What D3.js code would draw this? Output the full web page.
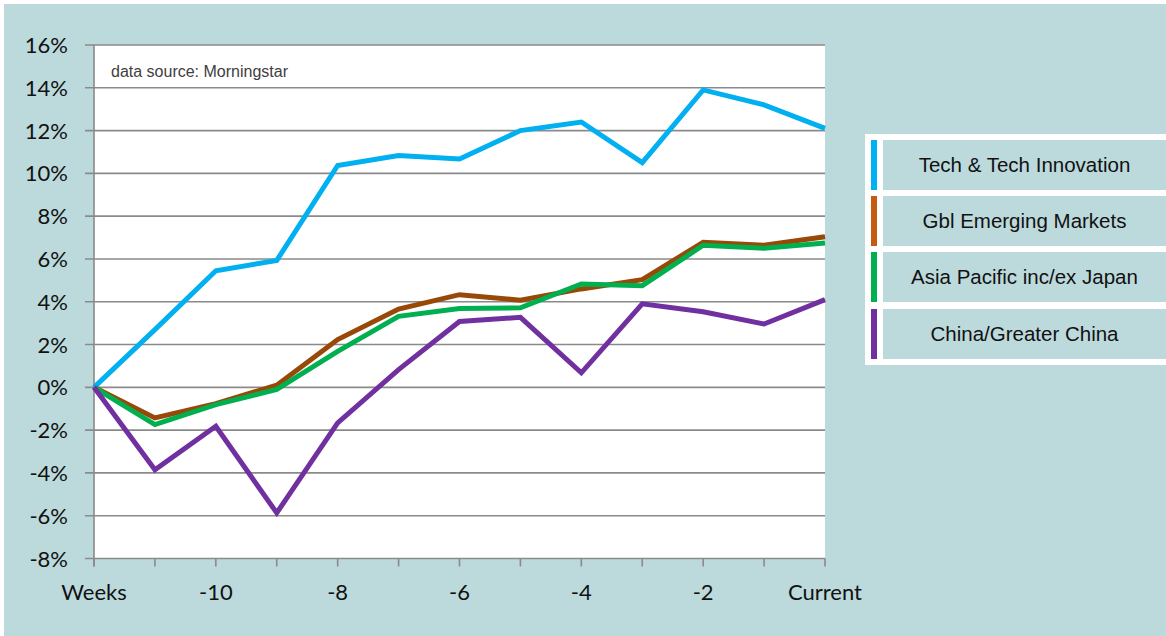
<!DOCTYPE html>
<html><head><meta charset="utf-8">
<script src="https://cdn.jsdelivr.net/npm/d3@7"></script>
<style>html,body{margin:0;padding:0;background:#fff;}svg{display:block;}</style>
</head><body>
<svg id="c" width="1166" height="636"></svg>
<script>
const weeks = [-12,-11,-10,-9,-8,-7,-6,-5,-4,-3,-2,-1,0];
const tickLabels = {"-12":"Weeks","-10":"-10","-8":"-8","-6":"-6","-4":"-4","-2":"-2","0":"Current"};
const yTicks = [-8,-6,-4,-2,0,2,4,6,8,10,12,14,16];
const seriesNames = ["Tech & Tech Innovation","Gbl Emerging Markets","Asia Pacific inc/ex Japan","China/Greater China"];
const tech =    [0, 2.7, 5.45, 5.93, 10.37, 10.83, 10.67, 12.0, 12.4, 10.5, 13.9, 13.2, 12.1];
const gblEM =   [0, -1.43, -0.76, 0.1, 2.23, 3.66, 4.33, 4.07, 4.6, 5.03, 6.78, 6.64, 7.04];
const asiaPac = [0, -1.74, -0.81, -0.1, 1.68, 3.32, 3.68, 3.72, 4.83, 4.75, 6.64, 6.5, 6.75];
const china =   [0, -3.85, -1.82, -5.87, -1.66, 0.83, 3.08, 3.27, 0.68, 3.9, 3.53, 2.96, 4.1];
const lineColors = ["#00B0F0","#984807","#00B050","#7030A0"];
const legendColors = ["#00B0F0","#C55A11","#00B050","#7030A0"];

const svg = d3.select("#c");
const bg = "#BCDADC";
svg.append("rect").attr("x",4).attr("y",4).attr("width",1162).attr("height",632).attr("fill",bg);

const L=94,R=825,T=45,B=558.5;
const x = d3.scaleLinear().domain([-12,0]).range([L,R]);
const y = d3.scaleLinear().domain([-8,16]).range([B,T]);

svg.append("rect").attr("x",L).attr("y",T).attr("width",R-L).attr("height",B-T).attr("fill","#fff");

// gridlines
svg.append("g").selectAll("line").data(yTicks).join("line")
  .attr("x1",L-9).attr("x2",R).attr("y1",d=>y(d)).attr("y2",d=>y(d))
  .attr("stroke","#8a8a8a").attr("stroke-width",1.6);

// y axis line
svg.append("line").attr("x1",L).attr("x2",L).attr("y1",T).attr("y2",B+8).attr("stroke","#8a8a8a").attr("stroke-width",1.6);
// x ticks
svg.append("g").selectAll("line").data(weeks).join("line")
  .attr("x1",d=>x(d)).attr("x2",d=>x(d)).attr("y1",B).attr("y2",B+8)
  .attr("stroke","#8a8a8a").attr("stroke-width",1.6);

const axisFont = "Lato, 'Open Sans', sans-serif";
svg.append("g").selectAll("text").data(yTicks).join("text")
  .attr("x",68).attr("y",d=>y(d)+8).attr("text-anchor","end")
  .attr("font-family",axisFont).attr("font-size",22).attr("fill","#111")
  .text(d=>d+"%");

svg.append("g").selectAll("text").data(weeks.filter(w=>tickLabels[w]!==undefined)).join("text")
  .attr("x",d=>x(d)).attr("y",600).attr("text-anchor","middle")
  .attr("font-family",axisFont).attr("font-size",22).attr("fill","#111")
  .text(d=>tickLabels[d]);

svg.append("text").attr("x",111).attr("y",77).attr("font-family","'Liberation Sans', Arial, sans-serif")
  .attr("font-size",16).attr("fill","#404040").text("data source: Morningstar");

const series = [tech,gblEM,asiaPac,china];
const line = d3.line().x((d,i)=>x(weeks[i])).y(d=>y(d));
svg.append("g").selectAll("path").data(series).join("path")
  .attr("d",d=>line(d)).attr("fill","none").attr("stroke",(d,i)=>lineColors[i])
  .attr("stroke-width",5).attr("stroke-linejoin","miter");

// legend
const lg = svg.append("g");
lg.append("rect").attr("x",865).attr("y",134).attr("width",301).attr("height",231).attr("fill","#fff");
const rowY = [140,196,252,309];
seriesNames.forEach((n,i)=>{
  lg.append("rect").attr("x",871).attr("y",rowY[i]).attr("width",6).attr("height",50).attr("fill",legendColors[i]);
  lg.append("rect").attr("x",883).attr("y",rowY[i]).attr("width",283).attr("height",50).attr("fill",bg);
  lg.append("text").attr("x",1024.5).attr("y",rowY[i]+31.5).attr("text-anchor","middle")
    .attr("font-family","'Liberation Sans', Arial, sans-serif").attr("font-size",20.5).attr("fill","#111").text(n);
});
</script>
</body></html>
